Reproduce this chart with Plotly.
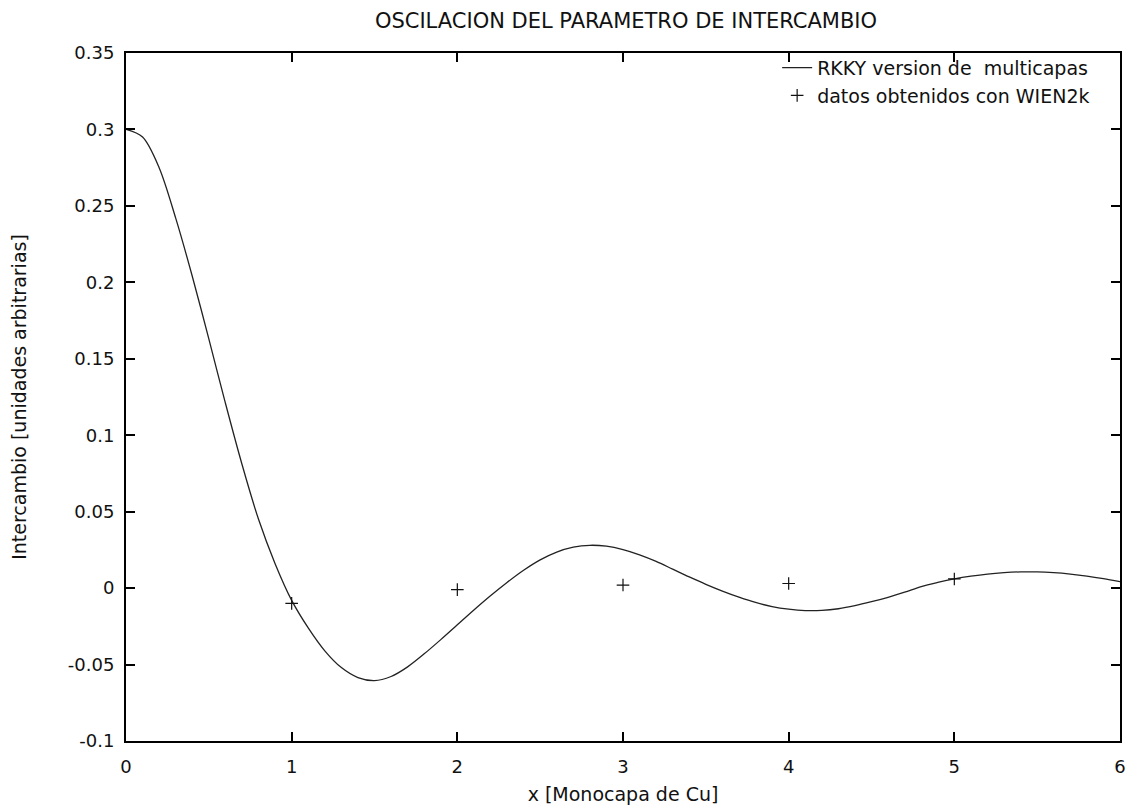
import plotly.graph_objects as go

# RKKY curve
curve_x = [0.0, 0.1, 0.2, 0.3, 0.4, 0.5, 0.6, 0.7, 0.8, 0.9,
           1.0, 1.1, 1.2, 1.3, 1.4, 1.5, 1.6, 1.7, 1.8, 1.9,
           2.0, 2.1, 2.2, 2.3, 2.4, 2.5, 2.6, 2.7, 2.8, 2.9,
           3.0, 3.1, 3.2, 3.3, 3.4, 3.5, 3.6, 3.7, 3.8, 3.9,
           4.0, 4.1, 4.2, 4.3, 4.4, 4.5, 4.6, 4.7, 4.8, 4.9,
           5.0, 5.1, 5.2, 5.3, 5.4, 5.5, 5.6, 5.7, 5.8, 5.9, 6.0]
curve_y = [0.300, 0.295, 0.275, 0.242, 0.204, 0.163, 0.121, 0.081, 0.045, 0.016,
           -0.008, -0.026, -0.041, -0.052, -0.0585, -0.0605, -0.0578, -0.0515, -0.043, -0.0337,
           -0.024, -0.0143, -0.005, 0.0037, 0.0117, 0.0185, 0.0236, 0.0268, 0.028, 0.0274,
           0.0252, 0.0218, 0.0175, 0.0124, 0.0073, 0.0025, -0.0019, -0.0059, -0.0094, -0.0121,
           -0.0138, -0.0147, -0.0146, -0.0135, -0.0115, -0.0089, -0.006, -0.0027, 0.001, 0.0037,
           0.006, 0.0078, 0.0092, 0.0101, 0.0106, 0.0106, 0.0101, 0.0092, 0.0079, 0.0062, 0.0042]

# WIEN2k data points
data_x = [1, 2, 3, 4, 5]
data_y = [-0.010, -0.001, 0.002, 0.003, 0.006]

x_tick_vals = [0, 1, 2, 3, 4, 5, 6]
x_tick_text = ["0", "1", "2", "3", "4", "5", "6"]
y_tick_vals = [-0.1, -0.05, 0, 0.05, 0.1, 0.15, 0.2, 0.25, 0.3, 0.35]
y_tick_text = ["-0.1", "-0.05", "0", "0.05", "0.1", "0.15", "0.2", "0.25", "0.3", "0.35"]

FONT = "DejaVu Sans"
TXT = "#111111"

fig = go.Figure()
fig.add_trace(go.Scatter(
    x=curve_x, y=curve_y, mode="lines", line_shape="spline",
    line=dict(color="#222222", width=1.3, smoothing=0.9),
    name="RKKY version de  multicapas",
))
fig.add_trace(go.Scatter(
    x=data_x, y=data_y, mode="markers",
    name="datos obtenidos con WIEN2k",
    marker=dict(symbol="cross-thin", size=9, line=dict(color="#111111", width=1.2)),
))

axis_common = dict(
    showline=True, linecolor="black", linewidth=2, mirror="allticks",
    ticks="inside", ticklen=9, tickwidth=1.5, tickcolor="black",
    showgrid=False, zeroline=False,
    tickfont=dict(family=FONT, size=18, color=TXT),
)

fig.update_layout(
    width=1132, height=811,
    margin=dict(l=126, r=6, t=53, b=70),
    paper_bgcolor="white", plot_bgcolor="white",
    title=dict(text="OSCILACION DEL PARAMETRO DE INTERCAMBIO",
               x=0.553, xanchor="center", y=0.975, yanchor="middle",
               font=dict(family=FONT, size=21, color=TXT)),
    xaxis=dict(range=[0, 6], tickvals=x_tick_vals, ticktext=x_tick_text,
               ticklabelstandoff=8,
               title=dict(text="x [Monocapa de Cu]", standoff=12,
                          font=dict(family=FONT, size=19, color=TXT)),
               **axis_common),
    yaxis=dict(range=[-0.1, 0.35], tickvals=y_tick_vals, ticktext=y_tick_text,
               ticklabelstandoff=6,
               title=dict(text="Intercambio [unidades arbitrarias]", standoff=36,
                          font=dict(family=FONT, size=19, color=TXT)),
               **axis_common),
    legend=dict(x=0.975, y=1.006, xanchor="right", yanchor="top",
                bgcolor="rgba(0,0,0,0)", borderwidth=0,
                font=dict(family=FONT, size=19, color=TXT),
                tracegroupgap=0),
    showlegend=True,
)

fig.write_html("out.html")
